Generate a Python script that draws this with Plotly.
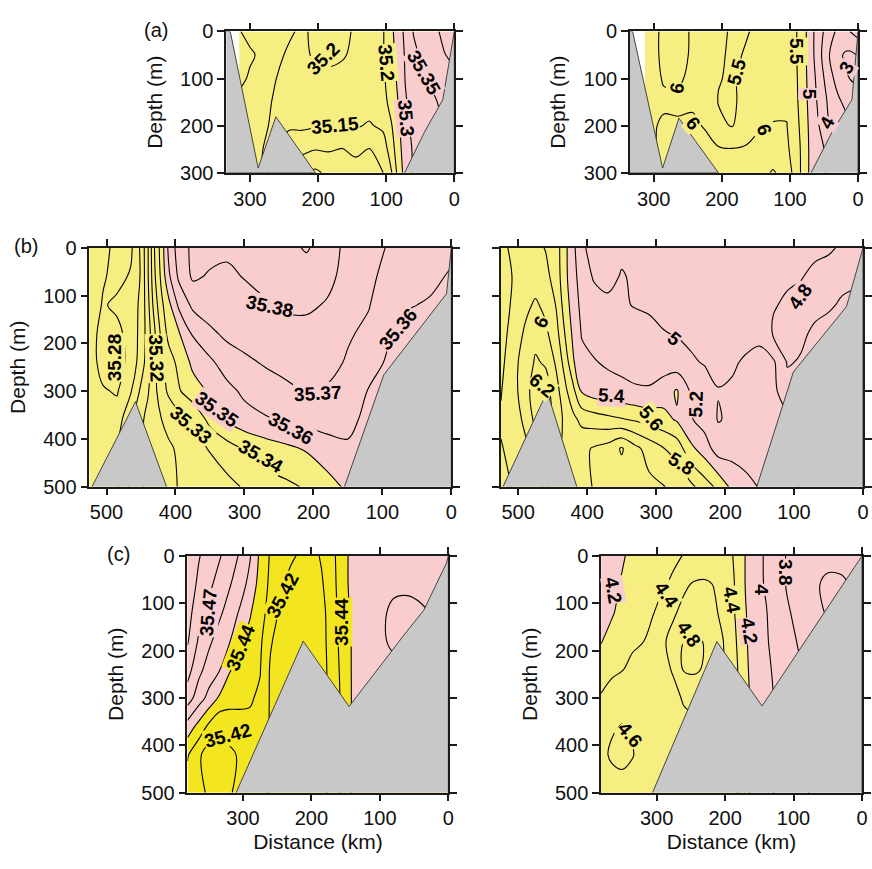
import numpy as np
import plotly.graph_objects as go

W, H = 872, 869
FONT = "Liberation Sans, Arial, sans-serif"
YEL = "#F7EE82"
BYEL = "#F3E620"
PINK = "#F9CDCD"
GREY = "#C8C8C8"

# ---------------- (a) salinity ----------------
A_SAL_X = [316, 300, 285, 265, 243, 225, 205, 185, 165, 145, 125, 105, 92, 82, 72, 60, 45, 30, 15, 0]
A_Z = [0, 50, 100, 150, 200, 250, 300]
A_SAL = [  # one list per distance, values by depth
    [35.198, 35.18, 35.19, 35.21, 35.215, 35.215, 35.215],
    [35.21, 35.195, 35.205, 35.21, 35.215, 35.215, 35.215],
    [35.215, 35.205, 35.21, 35.21, 35.215, 35.21, 35.205],
    [35.21, 35.21, 35.202, 35.198, 35.19, 35.16, 35.11],
    [35.205, 35.195, 35.19, 35.185, 35.16, 35.11, 35.06],
    [35.195, 35.19, 35.185, 35.18, 35.16, 35.11, 35.07],
    [35.205, 35.205, 35.19, 35.18, 35.155, 35.102, 35.04],
    [35.215, 35.21, 35.19, 35.18, 35.155, 35.105, 35.06],
    [35.21, 35.205, 35.185, 35.175, 35.155, 35.098, 35.07],
    [35.195, 35.19, 35.18, 35.175, 35.155, 35.11, 35.08],
    [35.19, 35.185, 35.18, 35.17, 35.145, 35.098, 35.08],
    [35.195, 35.195, 35.19, 35.18, 35.16, 35.12, 35.098],
    [35.24, 35.235, 35.23, 35.22, 35.198, 35.18, 35.148],
    [35.28, 35.27, 35.26, 35.252, 35.24, 35.23, 35.22],
    [35.31, 35.305, 35.302, 35.295, 35.29, 35.28, 35.27],
    [35.352, 35.34, 35.33, 35.32, 35.31, 35.305, 35.305],
    [35.37, 35.36, 35.348, 35.34, 35.33, 35.32, 35.31],
    [35.39, 35.38, 35.36, 35.345, 35.34, 35.33, 35.32],
    [35.41, 35.398, 35.38, 35.36, 35.352, 35.34, 35.33],
    [35.42, 35.41, 35.39, 35.37, 35.36, 35.352, 35.34],
]
A_SAL_LEVELS = [35.05, 35.1, 35.15, 35.2, 35.25, 35.3, 35.35, 35.4]
A_SAL_BL_X = [335, 329, 288, 262, 204, 335]
A_SAL_BL_Z = [0, 0, 290, 181, 300, 300]
A_SAL_BR_X = [73, 44, 17, 0, 0]
A_SAL_BR_Z = [300, 214, 145, 0, 300]

# ---------------- (a) temperature ----------------
A_TMP_X = [313, 300, 285, 265, 243, 225, 205, 185, 165, 145, 125, 105, 92, 82, 72, 60, 45, 30, 15, 0]
A_TMP = [
    [5.94, 5.94, 5.95, 5.96, 5.97, 5.98, 5.98],
    [5.97, 5.97, 5.97, 5.98, 5.99, 5.99, 5.99],
    [6.03, 6.03, 6.01, 5.98, 6.02, 6.03, 6.05],
    [6.06, 6.05, 6.02, 5.97, 6.02, 6.05, 6.1],
    [5.98, 5.98, 5.97, 5.96, 6.05, 6.1, 6.15],
    [5.96, 5.95, 5.92, 5.9, 5.98, 6.1, 6.2],
    [5.6, 5.55, 5.52, 5.48, 5.62, 6.05, 6.2],
    [5.45, 5.45, 5.45, 5.42, 5.47, 6.02, 6.2],
    [5.48, 5.52, 5.6, 5.65, 5.75, 6.05, 6.25],
    [5.55, 5.6, 5.7, 5.8, 5.95, 6.15, 6.3],
    [5.6, 5.65, 5.75, 5.9, 6.02, 6.2, 6.55],
    [5.7, 5.75, 5.8, 5.9, 6.02, 6.1, 6.3],
    [5.55, 5.55, 5.58, 5.62, 5.68, 5.75, 5.8],
    [5.3, 5.3, 5.3, 5.3, 5.35, 5.4, 5.4],
    [4.8, 4.8, 4.85, 4.9, 4.95, 4.98, 4.98],
    [4.3, 4.3, 4.4, 4.48, 4.6, 4.7, 4.7],
    [3.8, 3.6, 3.8, 3.98, 4.05, 4.4, 4.45],
    [3.4, 3.1, 3.3, 3.62, 3.85, 4.2, 4.3],
    [3.45, 2.9, 3.02, 3.3, 3.7, 4.02, 4.2],
    [3.7, 3.02, 2.9, 3.2, 3.62, 4.02, 4.2],
]
A_TMP_LEVELS = [3.0, 3.5, 4.0, 4.5, 5.0, 5.5, 6.0, 6.5]
A_TMP_BL_X = [335, 331, 287, 263, 205, 335]
A_TMP_BL_Z = [0, 0, 290, 184, 300, 300]
A_TMP_BR_X = [69, 38, 9, 0, 0]
A_TMP_BR_Z = [300, 213, 145, 0, 300]

# ---------------- (b) salinity ----------------
B_SAL_X = [525, 505, 485, 465, 450, 440, 430, 420, 410, 395, 375, 350, 325, 300, 270, 240, 210, 180, 150, 120, 90, 60, 30, 0]
B_Z = [0, 60, 120, 180, 240, 300, 360, 420, 500]
B_SAL = [
    [35.288, 35.288, 35.287, 35.285, 35.285, 35.287, 35.288, 35.289, 35.289],
    [35.283, 35.281, 35.279, 35.276, 35.276, 35.281, 35.285, 35.289, 35.289],
    [35.277, 35.277, 35.282, 35.277, 35.276, 35.279, 35.285, 35.289, 35.289],
    [35.278, 35.281, 35.285, 35.284, 35.283, 35.289, 35.298, 35.302, 35.302],
    [35.292, 35.291, 35.292, 35.293, 35.295, 35.302, 35.308, 35.308, 35.308],
    [35.309, 35.309, 35.307, 35.305, 35.305, 35.309, 35.313, 35.314, 35.314],
    [35.331, 35.329, 35.325, 35.319, 35.317, 35.318, 35.317, 35.316, 35.316],
    [35.345, 35.343, 35.338, 35.333, 35.328, 35.325, 35.32, 35.317, 35.312],
    [35.362, 35.358, 35.347, 35.343, 35.335, 35.332, 35.322, 35.319, 35.315],
    [35.375, 35.372, 35.362, 35.349, 35.343, 35.339, 35.326, 35.321, 35.321],
    [35.382, 35.3815, 35.372, 35.361, 35.352, 35.346, 35.331, 35.325, 35.324],
    [35.383, 35.379, 35.375, 35.368, 35.358, 35.351, 35.343, 35.331, 35.322],
    [35.382, 35.378, 35.376, 35.372, 35.365, 35.357, 35.351, 35.336, 35.327],
    [35.383, 35.3805, 35.376, 35.374, 35.368, 35.362, 35.356, 35.341, 35.331],
    [35.384, 35.383, 35.379, 35.375, 35.371, 35.365, 35.359, 35.345, 35.336],
    [35.387, 35.384, 35.3815, 35.376, 35.373, 35.368, 35.361, 35.348, 35.338],
    [35.391, 35.385, 35.382, 35.376, 35.374, 35.3705, 35.363, 35.351, 35.341],
    [35.385, 35.383, 35.379, 35.376, 35.373, 35.369, 35.364, 35.356, 35.346],
    [35.377, 35.376, 35.373, 35.371, 35.369, 35.365, 35.362, 35.359, 35.352],
    [35.374, 35.372, 35.3705, 35.368, 35.365, 35.3595, 35.358, 35.358, 35.358],
    [35.369, 35.367, 35.364, 35.361, 35.358, 35.356, 35.356, 35.356, 35.356],
    [35.366, 35.363, 35.3605, 35.357, 35.356, 35.356, 35.356, 35.356, 35.356],
    [35.364, 35.362, 35.359, 35.357, 35.356, 35.356, 35.356, 35.356, 35.356],
    [35.362, 35.359, 35.357, 35.356, 35.356, 35.356, 35.356, 35.356, 35.356],
]
B_SAL_LEVELS = [35.28, 35.29, 35.30, 35.31, 35.32, 35.33, 35.34, 35.35, 35.36, 35.37, 35.38, 35.39]
B_SAL_BL_X = [521, 458, 413]
B_SAL_BL_Z = [500, 322, 500]
B_SAL_BR_X = [155, 98, 7, 0, 0]
B_SAL_BR_Z = [500, 266, 96, 0, 500]

# ---------------- (b) temperature ----------------
B_TMP_X = [525, 505, 490, 475, 460, 445, 432, 420, 408, 390, 370, 350, 330, 310, 290, 270, 250, 230, 210, 190, 170, 150, 130, 110, 90, 70, 50, 30, 0]
B_TMP = [
    [5.75, 5.72, 5.7, 5.72, 5.75, 5.79, 5.82, 5.79, 5.77],
    [5.85, 5.82, 5.85, 5.9, 5.95, 5.95, 5.9, 5.85, 5.81],
    [5.86, 5.86, 5.95, 6.03, 6.1, 6.12, 6.05, 5.95, 5.85],
    [5.85, 5.9, 6.03, 6.15, 6.22, 6.3, 6.25, 6.1, 5.95],
    [5.79, 5.85, 5.95, 6.04, 6.18, 6.28, 6.3, 6.21, 6.02],
    [5.7, 5.72, 5.79, 5.88, 5.97, 6.08, 6.12, 6.05, 5.95],
    [5.45, 5.45, 5.5, 5.59, 5.72, 5.85, 5.95, 5.95, 5.9],
    [5.25, 5.27, 5.3, 5.35, 5.42, 5.65, 5.85, 5.92, 5.9],
    [5.02, 5.1, 5.15, 5.19, 5.25, 5.38, 5.75, 5.95, 5.95],
    [4.96, 4.98, 5.08, 5.15, 5.21, 5.3, 5.7, 6.02, 6.01],
    [4.95, 4.96, 5.03, 5.12, 5.18, 5.26, 5.66, 6.08, 6.1],
    [4.97, 5.01, 5.02, 5.1, 5.16, 5.24, 5.62, 6.22, 6.1],
    [4.95, 4.98, 4.99, 5.08, 5.14, 5.22, 5.58, 6.05, 6.1],
    [4.93, 4.95, 4.98, 5.04, 5.12, 5.22, 5.52, 5.92, 6.05],
    [4.92, 4.93, 4.95, 5.01, 5.1, 5.3, 5.47, 5.81, 6.01],
    [4.91, 4.92, 4.93, 4.99, 5.08, 5.42, 5.38, 5.72, 5.95],
    [4.9, 4.91, 4.92, 4.97, 5.02, 5.18, 5.22, 5.45, 5.85],
    [4.9, 4.9, 4.91, 4.94, 4.99, 5.08, 5.12, 5.3, 5.7],
    [4.89, 4.89, 4.9, 4.92, 4.97, 5.005, 4.99, 5.1, 5.55],
    [4.88, 4.88, 4.89, 4.93, 4.98, 5.02, 5.03, 5.12, 5.35],
    [4.87, 4.87, 4.88, 4.95, 5.02, 5.06, 5.08, 5.12, 5.25],
    [4.86, 4.86, 4.87, 4.97, 5.04, 5.07, 5.09, 5.12, 5.19],
    [4.85, 4.84, 4.81, 4.78, 5.03, 5.06, 5.08, 5.1, 5.15],
    [4.84, 4.82, 4.78, 4.77, 4.79, 4.85, 5.05, 5.08, 5.1],
    [4.83, 4.805, 4.77, 4.78, 4.81, 4.85, 4.9, 4.95, 4.98],
    [4.82, 4.78, 4.77, 4.82, 4.85, 4.88, 4.9, 4.95, 4.98],
    [4.81, 4.77, 4.79, 4.83, 4.86, 4.88, 4.9, 4.95, 4.98],
    [4.79, 4.78, 4.81, 4.84, 4.86, 4.88, 4.9, 4.95, 4.98],
    [4.77, 4.79, 4.82, 4.85, 4.86, 4.88, 4.9, 4.95, 4.98],
]
B_TMP_LEVELS = [4.8, 5.0, 5.2, 5.4, 5.6, 5.8, 6.0, 6.2]
B_TMP_BL_X = [522, 458, 415]
B_TMP_BL_Z = [500, 301, 500]
B_TMP_BR_X = [154, 101, 24, 0, 0]
B_TMP_BR_Z = [500, 260, 123, 0, 500]

# ---------------- (c) salinity ----------------
C_SAL_X = [381, 365, 350, 335, 320, 305, 290, 275, 260, 245, 230, 215, 200, 185, 170, 155, 140, 120, 100, 80, 60, 40, 20, 0]
C_Z = [0, 60, 120, 180, 240, 300, 360, 420, 500]
C_SAL = [
    [35.488, 35.487, 35.484, 35.481, 35.474, 35.465, 35.446, 35.431, 35.425],
    [35.481, 35.478, 35.474, 35.469, 35.463, 35.455, 35.437, 35.422, 35.424],
    [35.475, 35.472, 35.468, 35.462, 35.456, 35.447, 35.428, 35.415, 35.418],
    [35.471, 35.467, 35.462, 35.456, 35.451, 35.439, 35.421, 35.417, 35.414],
    [35.466, 35.461, 35.456, 35.451, 35.441, 35.434, 35.424, 35.418, 35.418],
    [35.459, 35.455, 35.449, 35.441, 35.436, 35.432, 35.427, 35.421, 35.425],
    [35.451, 35.447, 35.441, 35.437, 35.433, 35.431, 35.428, 35.426, 35.425],
    [35.438, 35.436, 35.434, 35.432, 35.4305, 35.4285, 35.427, 35.426, 35.425],
    [35.429, 35.428, 35.426, 35.421, 35.419, 35.419, 35.419, 35.419, 35.419],
    [35.424, 35.421, 35.418, 35.416, 35.415, 35.415, 35.415, 35.415, 35.415],
    [35.421, 35.418, 35.415, 35.414, 35.414, 35.414, 35.414, 35.414, 35.414],
    [35.419, 35.416, 35.414, 35.413, 35.413, 35.413, 35.413, 35.413, 35.413],
    [35.417, 35.415, 35.414, 35.414, 35.414, 35.414, 35.414, 35.414, 35.414],
    [35.421, 35.419, 35.417, 35.417, 35.417, 35.417, 35.417, 35.417, 35.417],
    [35.427, 35.426, 35.425, 35.424, 35.423, 35.423, 35.423, 35.423, 35.423],
    [35.436, 35.436, 35.435, 35.434, 35.433, 35.432, 35.432, 35.432, 35.432],
    [35.443, 35.443, 35.442, 35.441, 35.441, 35.441, 35.441, 35.441, 35.441],
    [35.445, 35.446, 35.447, 35.446, 35.445, 35.445, 35.445, 35.445, 35.445],
    [35.446, 35.447, 35.448, 35.448, 35.446, 35.445, 35.445, 35.445, 35.445],
    [35.447, 35.448, 35.452, 35.452, 35.447, 35.445, 35.445, 35.445, 35.445],
    [35.447, 35.448, 35.453, 35.453, 35.447, 35.445, 35.445, 35.445, 35.445],
    [35.447, 35.448, 35.451, 35.449, 35.447, 35.445, 35.445, 35.445, 35.445],
    [35.446, 35.447, 35.449, 35.447, 35.446, 35.445, 35.445, 35.445, 35.445],
    [35.445, 35.446, 35.447, 35.447, 35.446, 35.445, 35.445, 35.445, 35.445],
]
C_SAL_LEVELS = [35.42, 35.43, 35.44, 35.45, 35.46, 35.47, 35.48]
C_SAL_B_X = [310, 212, 145, 126, 61, 36, 3, 0, 0]
C_SAL_B_Z = [500, 180, 318, 282, 160, 115, 16, 0, 500]

# ---------------- (c) temperature ----------------
C_TMP_X = [381, 365, 350, 335, 320, 305, 290, 275, 260, 245, 230, 215, 200, 185, 170, 155, 140, 125, 110, 90, 70, 50, 30, 15, 0]
C_TMP = [
    [4.1, 4.12, 4.15, 4.19, 4.3, 4.42, 4.5, 4.55, 4.45],
    [4.12, 4.15, 4.18, 4.28, 4.37, 4.47, 4.58, 4.63, 4.5],
    [4.18, 4.22, 4.27, 4.33, 4.395, 4.5, 4.61, 4.65, 4.52],
    [4.25, 4.3, 4.33, 4.38, 4.43, 4.52, 4.58, 4.61, 4.5],
    [4.3, 4.33, 4.36, 4.395, 4.47, 4.52, 4.55, 4.52, 4.48],
    [4.33, 4.36, 4.395, 4.45, 4.5, 4.52, 4.5, 4.48, 4.46],
    [4.36, 4.39, 4.45, 4.58, 4.55, 4.5, 4.48, 4.46, 4.45],
    [4.38, 4.42, 4.58, 4.66, 4.62, 4.55, 4.5, 4.48, 4.46],
    [4.405, 4.57, 4.65, 4.805, 4.82, 4.62, 4.55, 4.5, 4.48],
    [4.43, 4.62, 4.7, 4.84, 4.83, 4.65, 4.55, 4.5, 4.48],
    [4.45, 4.63, 4.68, 4.79, 4.78, 4.62, 4.55, 4.5, 4.48],
    [4.47, 4.59, 4.62, 4.7, 4.7, 4.62, 4.55, 4.5, 4.48],
    [4.46, 4.5, 4.55, 4.58, 4.58, 4.55, 4.5, 4.48, 4.46],
    [4.38, 4.39, 4.39, 4.42, 4.45, 4.45, 4.45, 4.45, 4.45],
    [4.19, 4.19, 4.21, 4.22, 4.23, 4.23, 4.23, 4.23, 4.23],
    [4.05, 4.06, 4.08, 4.1, 4.12, 4.15, 4.15, 4.15, 4.15],
    [3.98, 3.98, 4.01, 4.02, 4.04, 4.05, 4.05, 4.05, 4.05],
    [3.88, 3.88, 3.9, 3.93, 3.96, 3.98, 3.98, 3.98, 3.98],
    [3.79, 3.79, 3.82, 3.85, 3.88, 3.9, 3.9, 3.9, 3.9],
    [3.74, 3.73, 3.75, 3.78, 3.81, 3.83, 3.83, 3.83, 3.83],
    [3.7, 3.63, 3.66, 3.72, 3.76, 3.78, 3.78, 3.78, 3.78],
    [3.66, 3.56, 3.58, 3.65, 3.7, 3.72, 3.72, 3.72, 3.72],
    [3.66, 3.57, 3.58, 3.62, 3.66, 3.68, 3.68, 3.68, 3.68],
    [3.68, 3.62, 3.62, 3.65, 3.66, 3.68, 3.68, 3.68, 3.68],
    [3.72, 3.66, 3.65, 3.66, 3.66, 3.68, 3.68, 3.68, 3.68],
]
C_TMP_LEVELS = [3.6, 3.8, 4.0, 4.2, 4.4, 4.6, 4.8]
C_TMP_B_X = [306, 212, 146, 0, 0]
C_TMP_B_Z = [500, 181, 317, 0, 500]

# contour labels as in the original figure: (text, distance, depth, angle, background)
A_SAL_TAGS = [("35.2", 192, 58, -45, YEL), ("35.2", 100, 66, 85, YEL), ("35.15", 175, 200, -5, YEL),
              ("35.3", 71, 185, 85, PINK), ("35.35", 45, 87, 60, PINK)]
A_TMP_TAGS = [("6", 265, 120, -80, YEL), ("6", 242, 195, 50, YEL), ("5.5", 178, 85, -75, YEL),
              ("6", 138, 208, 70, YEL), ("5.5", 90, 43, 90, YEL), ("5", 72, 132, 90, PINK),
              ("4", 45, 194, -60, PINK), ("3", 17, 76, -60, PINK)]
B_SAL_TAGS = [("35.38", 263, 122, 12, PINK), ("35.36", 78, 170, -50, PINK), ("35.28", 489, 229, -90, YEL),
              ("35.32", 428, 232, 88, YEL), ("35.37", 194, 306, -3, PINK), ("35.35", 340, 338, 35, PINK),
              ("35.36", 233, 378, 28, PINK), ("35.33", 377, 372, 40, YEL), ("35.34", 276, 436, 30, YEL)]
B_TMP_TAGS = [("4.8", 91, 102, -55, PINK), ("6", 466, 155, -65, YEL), ("5", 274, 190, 40, PINK),
              ("6.2", 465, 288, 40, YEL), ("5.4", 365, 310, 3, PINK), ("5.2", 243, 327, -88, PINK),
              ("5.6", 307, 357, 50, YEL), ("5.8", 264, 452, 32, YEL)]
C_SAL_TAGS = [("35.47", 351, 119, -85, PINK), ("35.44", 303, 194, -68, BYEL), ("35.42", 242, 84, -62, BYEL),
              ("35.44", 157, 140, -90, BYEL), ("35.42", 322, 380, -15, BYEL)]
C_TMP_TAGS = [("4.2", 364, 72, 80, PINK), ("4.4", 286, 82, 55, YEL), ("4.4", 191, 93, 80, YEL),
              ("4.2", 165, 158, 80, PINK), ("4", 148, 72, 90, PINK), ("3.8", 112, 35, 90, PINK),
              ("4.8", 252, 165, 55, YEL), ("4.6", 339, 377, 50, YEL)]

panels = [
    dict(x=A_SAL_X, z=A_Z, v=A_SAL, thr=35.25, lo=YEL, hi=PINK, lev=A_SAL_LEVELS, tags=A_SAL_TAGS,
         bathy=[(A_SAL_BL_X, A_SAL_BL_Z), (A_SAL_BR_X, A_SAL_BR_Z)], box=(228, 458, 21, 166), xr=335, zr=300,
         yticks=True, ytitle=True, xtitle=False),
    dict(x=A_TMP_X, z=A_Z, v=A_TMP, thr=5.0, lo=PINK, hi=YEL, lev=A_TMP_LEVELS, tags=A_TMP_TAGS,
         bathy=[(A_TMP_BL_X, A_TMP_BL_Z), (A_TMP_BR_X, A_TMP_BR_Z)], box=(635, 865, 21, 166), xr=335, zr=300,
         yticks=True, ytitle=True, xtitle=False),
    dict(x=B_SAL_X, z=B_Z, v=B_SAL, thr=35.35, lo=YEL, hi=PINK, lev=B_SAL_LEVELS, tags=B_SAL_TAGS,
         bathy=[(B_SAL_BL_X, B_SAL_BL_Z), (B_SAL_BR_X, B_SAL_BR_Z)], box=(90, 455, 243, 488), xr=525, zr=500,
         yticks=True, ytitle=True, xtitle=False),
    dict(x=B_TMP_X, z=B_Z, v=B_TMP, thr=5.4, lo=PINK, hi=YEL, lev=B_TMP_LEVELS, tags=B_TMP_TAGS,
         bathy=[(B_TMP_BL_X, B_TMP_BL_Z), (B_TMP_BR_X, B_TMP_BR_Z)], box=(505, 870, 243, 488), xr=525, zr=500,
         yticks=False, ytitle=False, xtitle=False),
    dict(x=C_SAL_X, z=C_Z, v=C_SAL, thr=35.44, lo=BYEL, hi=PINK, lev=C_SAL_LEVELS, tags=C_SAL_TAGS,
         bathy=[(C_SAL_B_X, C_SAL_B_Z)], box=(189, 452, 559, 802), xr=381, zr=500,
         yticks=True, ytitle=True, xtitle=True),
    dict(x=C_TMP_X, z=C_Z, v=C_TMP, thr=4.2, lo=PINK, hi=YEL, lev=C_TMP_LEVELS, tags=C_TMP_TAGS,
         bathy=[(C_TMP_B_X, C_TMP_B_Z)], box=(606, 869, 559, 802), xr=381, zr=500,
         yticks=True, ytitle=True, xtitle=True),
]

fig = go.Figure()
layout = {}
annos = []
for i, p in enumerate(panels, start=1):
    xa = "x" if i == 1 else f"x{i}"
    ya = "y" if i == 1 else f"y{i}"
    zz = np.array(p["v"], dtype=float).T
    fig.add_trace(go.Contour(
        x=p["x"], y=p["z"], z=zz, xaxis=xa, yaxis=ya, autocontour=False,
        contours=dict(coloring="fill", start=p["thr"], end=p["thr"], size=1, showlines=False),
        colorscale=[[0, p["lo"]], [1, p["hi"]]], showscale=False,
        line=dict(width=0, smoothing=1.0), hoverinfo="skip"))
    lev = p["lev"]
    step = round(lev[1] - lev[0], 6)
    fig.add_trace(go.Contour(
        x=p["x"], y=p["z"], z=zz, xaxis=xa, yaxis=ya, autocontour=False,
        contours=dict(coloring="none", start=lev[0], end=lev[-1] + step * 0.01, size=step, showlabels=False),
        line=dict(color="black", width=1.1, smoothing=1.0),
        showscale=False, hoverinfo="skip"))
    for bx, bz in p["bathy"]:
        fig.add_trace(go.Scatter(
            x=bx, y=bz, mode="lines", fill="toself", fillcolor=GREY,
            line=dict(color="#444444", width=1), xaxis=xa, yaxis=ya,
            hoverinfo="skip", showlegend=False))
    for txt, tx, tz, ang, bg in p["tags"]:
        annos.append(dict(text=f"<b>{txt}</b>", x=tx, y=tz, xref=xa, yref=ya, showarrow=False,
                          textangle=ang, bgcolor=bg, borderpad=0, xanchor="center", yanchor="middle",
                          font=dict(family=FONT, size=19, color="black")))

    l, r, t, b = p["box"]
    common = dict(showline=True, linecolor="#1a1a1a", linewidth=1.5, mirror="ticks",
                  ticks="outside", ticklen=7, tickwidth=1.5, tickcolor="#1a1a1a",
                  showgrid=False, zeroline=False,
                  tickfont=dict(family=FONT, size=20, color="#111111"))
    xkey = "xaxis" if i == 1 else f"xaxis{i}"
    ykey = "yaxis" if i == 1 else f"yaxis{i}"
    xd = dict(domain=[l / W, r / W], range=[p["xr"], 0], anchor=ya, dtick=100, tick0=0, **common)
    if p["xtitle"]:
        xd["title"] = dict(text="Distance (km)", font=dict(family=FONT, size=21, color="#111111"), standoff=6)
    yd = dict(domain=[1 - b / H, 1 - t / H], range=[p["zr"], 0], anchor=xa, dtick=100, tick0=0,
              showticklabels=p["yticks"], **common)
    if p["ytitle"]:
        yd["title"] = dict(text="Depth (m)", font=dict(family=FONT, size=21, color="#111111"), standoff=12)
    layout[xkey] = xd
    layout[ykey] = yd

for txt, px, py in [("(a)", 157, 20), ("(b)", 26, 241), ("(c)", 119, 557)]:
    annos.append(dict(text=txt, x=px / W, y=1 - py / H, xref="paper", yref="paper", showarrow=False,
                      xanchor="center", yanchor="middle", font=dict(family=FONT, size=20, color="#111111")))

fig.update_layout(
    width=W, height=H, margin=dict(l=0, r=0, t=0, b=0),
    paper_bgcolor="white", plot_bgcolor="white", showlegend=False,
    annotations=annos, **layout)

fig.write_html("out.html")
